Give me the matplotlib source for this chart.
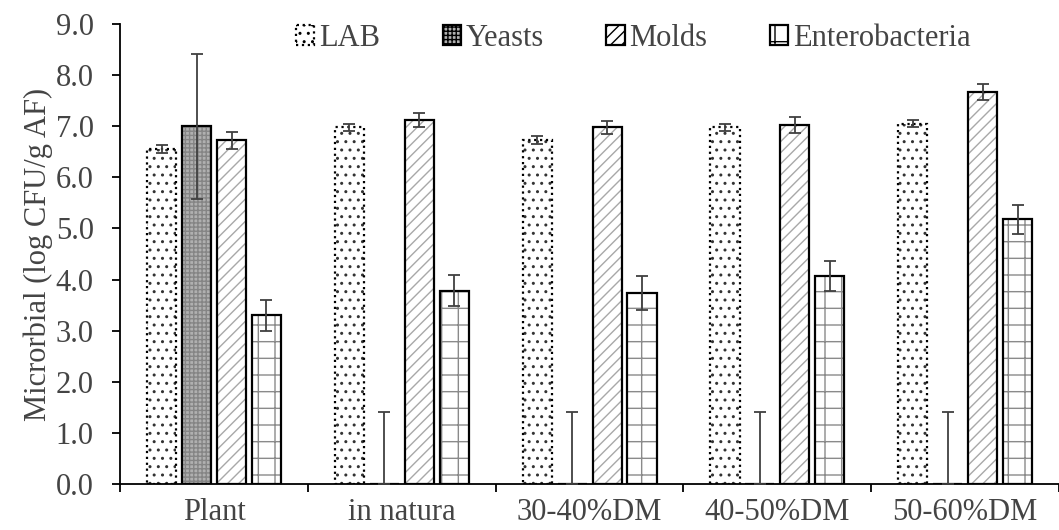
import matplotlib
matplotlib.use("Agg")
import matplotlib.pyplot as plt
import numpy as np
from matplotlib.patches import Patch

plt.rcParams['font.family'] = ['Liberation Serif', 'DejaVu Serif']
plt.rcParams['hatch.linewidth'] = 1.0

categories = ["Plant", "in natura", "30-40%DM", "40-50%DM", "50-60%DM"]
series = ["LAB", "Yeasts", "Molds", "Enterobacteria"]
lab = [6.56, 6.98, 6.73, 6.98, 7.05]
lab_err = [0.08, 0.07, 0.08, 0.07, 0.07]
yeasts = [7.0, 0.0, 0.0, 0.0, 0.0]
yeasts_err = [1.42, 1.4, 1.4, 1.4, 1.4]
molds = [6.72, 7.12, 6.98, 7.02, 7.67]
molds_err = [0.17, 0.13, 0.13, 0.16, 0.15]
entero = [3.30, 3.78, 3.73, 4.07, 5.18]
entero_err = [0.30, 0.30, 0.33, 0.30, 0.28]

values = [lab, yeasts, molds, entero]
errors = [lab_err, yeasts_err, molds_err, entero_err]

styles = [
    dict(face='white', hatch='..', hcolor='#333333', ls=':'),
    dict(face='#b0b0b0', hatch='++++', hcolor='#858585', ls='-'),
    dict(face='white', hatch='///', hcolor='#a8a8a8', ls='-'),
    dict(face='white', hatch='+', hcolor='#8a8a8a', ls='-'),
]

TXT = '#444444'
FS = 22

fig = plt.figure(figsize=(10.59, 5.30), dpi=100)
ax = fig.add_axes([0.1135, 0.0868, 0.8865, 0.868])

x = np.arange(len(categories))
pitch = 0.186
width = 0.155
offsets = (np.arange(4) - 1.5) * pitch

for i, (vals, errs, st) in enumerate(zip(values, errors, styles)):
    pos = x + offsets[i]
    plt.rcParams['hatch.color'] = st['hcolor']
    ax.bar(pos, vals, width, color=st['face'], edgecolor=st['hcolor'],
           hatch=st['hatch'], linewidth=0, zorder=2)
    ax.bar(pos, vals, width, fill=False, edgecolor='black',
           linewidth=1.6, linestyle=st['ls'], zorder=3)
    if i == 1:
        lower = [e if v > 0 else 0 for v, e in zip(vals, errs)]
        yerr = [lower, errs]
    else:
        yerr = errs
    ax.errorbar(pos, vals, yerr=yerr, fmt='none', ecolor='#404040',
                elinewidth=1.3, capsize=4.5, capthick=1.3, zorder=4)

ax.set_xlim(-0.5, len(categories) - 0.5)
ax.set_ylim(0, 9)
yt = np.arange(0, 9.01, 1.0)
ax.set_yticks(yt)
ax.set_yticklabels([f"{v:.1f}" for v in yt], fontsize=FS, color=TXT)
ax.set_xticks(np.arange(-0.5, len(categories), 1.0))
ax.set_xticklabels([])
ax.set_xticks(x, minor=True)
ax.set_xticklabels(categories, minor=True, fontsize=FS, color=TXT)
ax.tick_params(axis='x', which='major', direction='out', length=6, width=1.3)
ax.tick_params(axis='x', which='minor', length=0, pad=10)
ax.tick_params(axis='y', direction='out', length=6, width=1.3, pad=13)
for s in ['top', 'right']:
    ax.spines[s].set_visible(False)
ax.spines['left'].set_linewidth(1.3)
ax.spines['bottom'].set_linewidth(1.3)

ax.set_ylabel("Microrbial (log CFU/g AF)", fontsize=FS, color=TXT, labelpad=2)

handles = []
for st in styles:
    plt.rcParams['hatch.color'] = st['hcolor']
    handles.append(Patch(facecolor=st['face'], edgecolor='black', hatch=st['hatch'],
                         linestyle=st['ls'], linewidth=1.6))
leg = fig.legend(handles, series, loc='center', bbox_to_anchor=(0.598, 0.928), ncol=4,
                 frameon=False, fontsize=FS, handlelength=0.6, handleheight=0.6,
                 handletextpad=0.15, columnspacing=2.05)
for t in leg.get_texts():
    t.set_color(TXT)

fig.savefig("out.png", dpi=100)
